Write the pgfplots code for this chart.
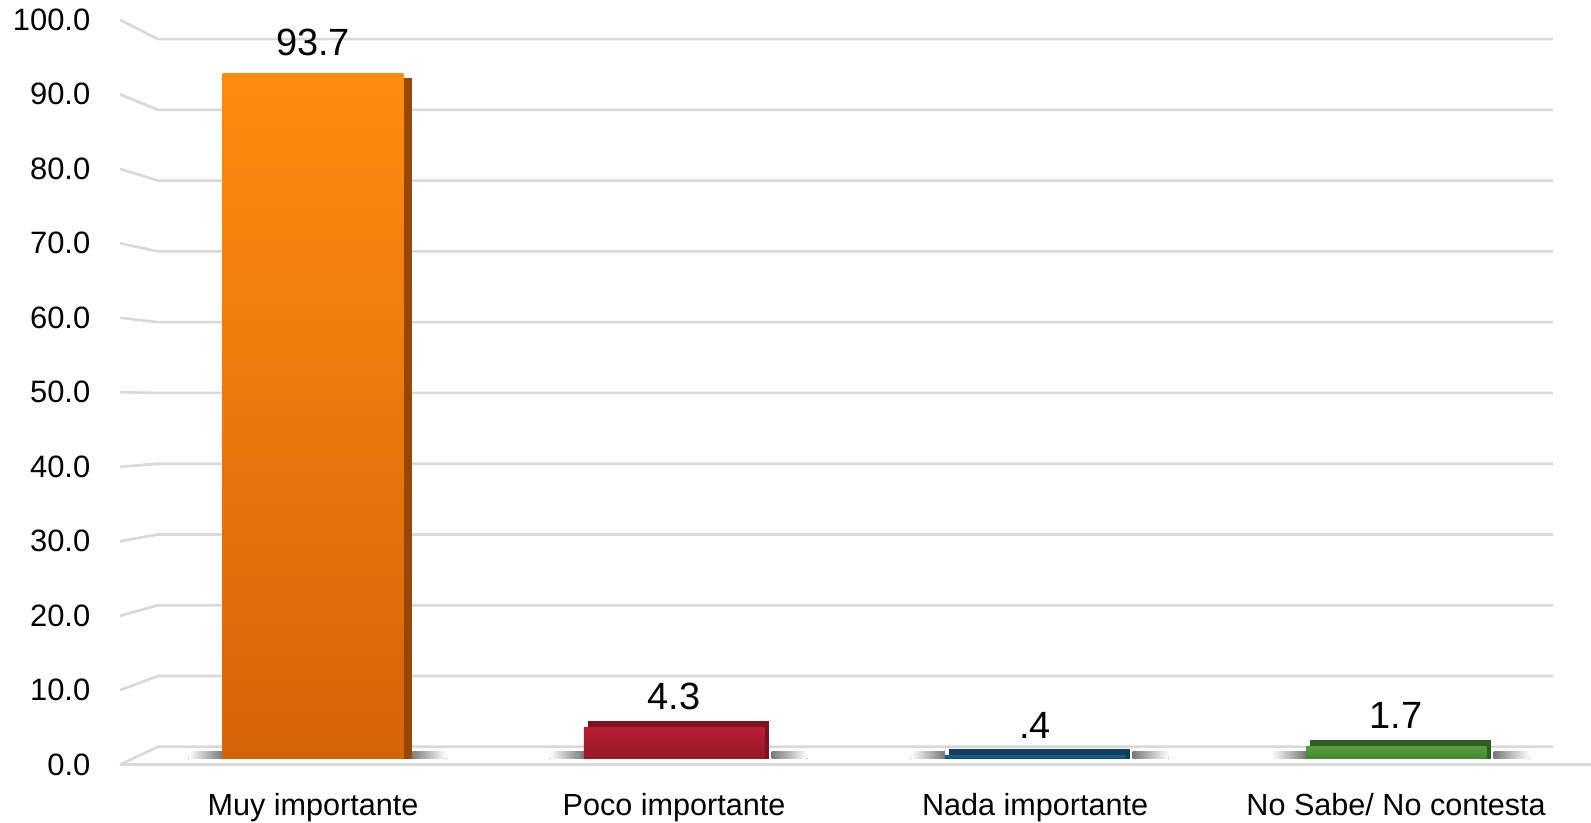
\documentclass[border=0pt]{standalone}
\usepackage{pgfplots}
\pgfplotsset{compat=1.18}
\usepackage{fontspec}
\setmainfont{Liberation Sans}
\definecolor{gridc}{RGB}{217,217,217}
\definecolor{shadowc}{RGB}{120,120,120}
\definecolor{orgtop}{RGB}{255,139,15}
\definecolor{orgbot}{RGB}{212,100,8}
\definecolor{orgside}{RGB}{150,70,5}
\definecolor{redtop}{RGB}{185,30,50}
\definecolor{redbot}{RGB}{150,24,40}
\definecolor{redlid}{RGB}{128,18,32}
\definecolor{bluetop}{RGB}{28,92,138}
\definecolor{bluebot}{RGB}{20,75,115}
\definecolor{bluelid}{RGB}{16,62,98}
\definecolor{grntop}{RGB}{88,156,64}
\definecolor{grnbot}{RGB}{70,135,50}
\definecolor{grnlid}{RGB}{45,95,35}
\begin{document}
\begin{tikzpicture}
\begin{axis}[
  set layers=standard,
  scale only axis,
  width=147.1mm, height=74.63mm,
  xmin=-0.5346, xmax=3.540,
  ymin=-1, ymax=101,
  clip=false,
  axis line style={draw=none},
  tick style={draw=none},
  major tick length=0pt,
  xtick={0,1,2,3},
  xticklabels={Muy importante, Poco importante, Nada importante, No Sabe/ No contesta},
  ytick={-0.82,9.36,19.54,29.72,39.90,50.08,60.26,70.44,80.62,90.80,100.98},
  yticklabels={0.0,10.0,20.0,30.0,40.0,50.0,60.0,70.0,80.0,90.0,100.0},
  yticklabel style={anchor=east, inner sep=0pt, xshift=-2.9mm, font=\fontsize{8.8}{10}\selectfont},
  xticklabel style={anchor=base, inner sep=0pt, yshift=-4.9mm, font=\fontsize{8.7}{10}\selectfont},
  nodes near coords style={anchor=center, yshift=3.05mm, font=\fontsize{10.8}{12}\selectfont, text=black},
]
\begin{pgfonlayer}{axis grid}
\pgfplotsinvokeforeach{0,10,20,30,40,50,60,70,80,90,100}{
  \draw[gridc, line width=0.75pt] (axis cs:-0.5346,{-0.82+1.018*#1}) -- (axis cs:-0.429,{1.64+0.967*#1}) -- (axis cs:3.435,{1.64+0.967*#1});
}
\draw[gridc, line width=0.75pt] (axis cs:-0.5346,-0.82) -- (axis cs:3.540,-0.82);
\pgfplotsinvokeforeach{0,1,2,3}{
  \fill[left color=white, right color=shadowc] (axis cs:{#1-0.345},0) rectangle (axis cs:{#1-0.25},0.95);
  \fill[left color=shadowc, right color=white] (axis cs:{#1+0.27},0) rectangle (axis cs:{#1+0.37},0.95);
}
\end{pgfonlayer}
% top faces of the low bars
\addplot[ybar, bar width=0.5, bar shift=0.012, draw=none, fill=redlid] coordinates {(1,5.2)};
\addplot[ybar, bar width=0.5, bar shift=0.012, draw=none, fill=bluelid] coordinates {(2,1.3)};
\addplot[ybar, bar width=0.5, bar shift=0.012, draw=none, fill=grnlid] coordinates {(3,2.6)};
% side face of the tall bar
\addplot[ybar, bar width=0.025, bar shift=0.2625, draw=none, fill=orgside] coordinates {(0,93.0)};
% front faces
\addplot[ybar, bar width=0.5, bar shift=0, draw=none, top color=orgtop, bottom color=orgbot,
  nodes near coords={93.7}] coordinates {(0,93.7)};
\addplot[ybar, bar width=0.5, bar shift=0, draw=none, top color=redtop, bottom color=redbot,
  nodes near coords={4.3}] coordinates {(1,4.3)};
\addplot[ybar, bar width=0.5, bar shift=0, draw=none, top color=bluetop, bottom color=bluebot,
  nodes near coords={.4}] coordinates {(2,0.4)};
\addplot[ybar, bar width=0.5, bar shift=0, draw=none, top color=grntop, bottom color=grnbot,
  nodes near coords={1.7}] coordinates {(3,1.7)};
\end{axis}
\pgfresetboundingbox
\path[use as bounding box] (-12mm,-5.6mm) rectangle (147.1mm,76.6mm);
\end{tikzpicture}
\end{document}
